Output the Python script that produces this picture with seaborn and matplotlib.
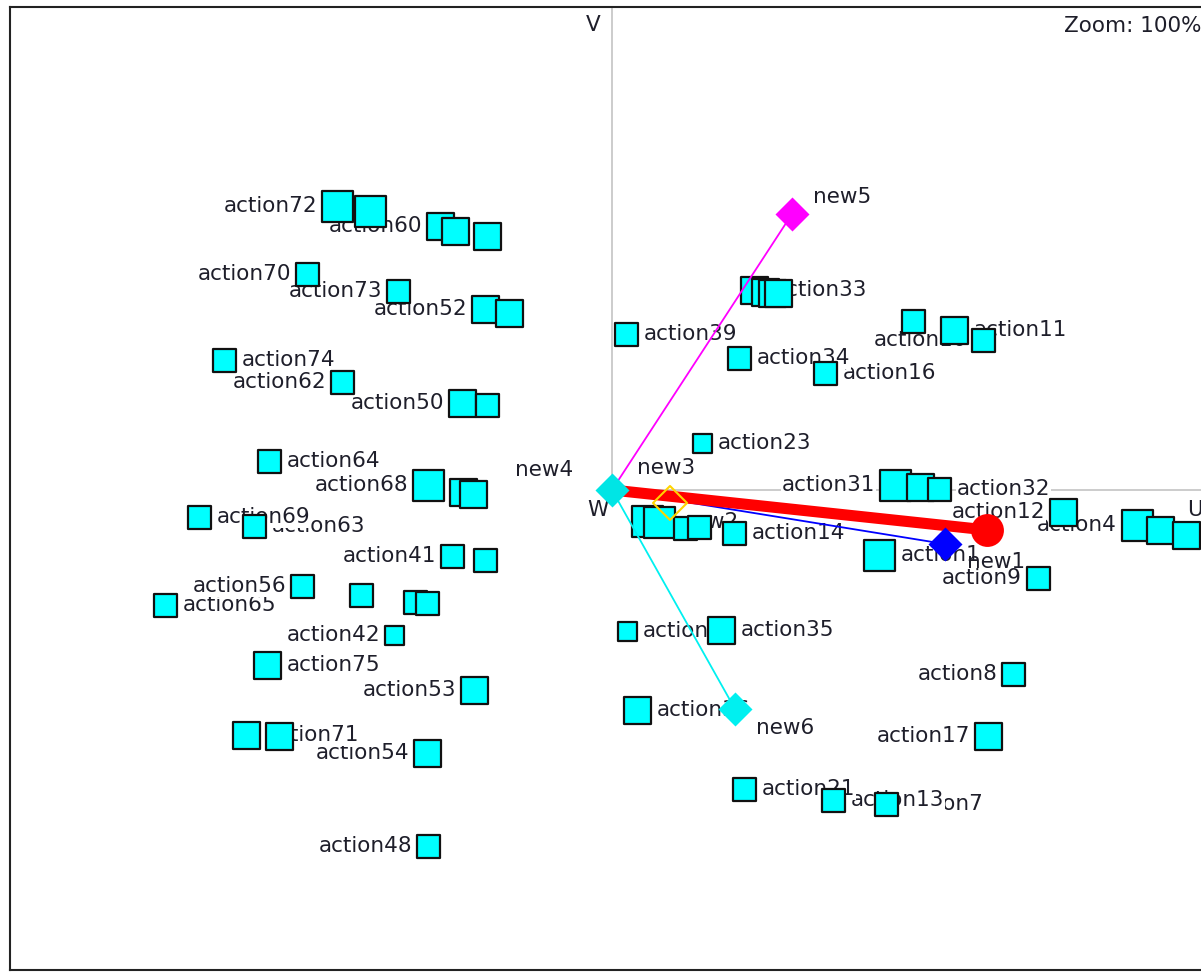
import matplotlib
matplotlib.use("Agg")
import matplotlib.pyplot as plt
import seaborn as sns
import pandas as pd

# ---- actions projected on the (U, V) plane ----
act_label = ["action72", "", "action60", "", "", "action70", "action73", "action52", "",
             "action74", "action62", "action50", "", "action64", "action68", "", "",
             "action69", "action63", "action41", "", "action56", "action65", "", "", "",
             "action42", "action75", "action53", "action71", "", "action54", "action48",
             "action39", "action33", "", "", "", "action34", "action16", "", "action11",
             "action10", "action23", "action31", "", "action32", "action12", "action4", "", "",
             "", "new2", "", "", "action14", "action1", "action9", "action37",
             "action35", "action8", "action36", "action17", "action21", "action13", "action7"]
act_u = [-2.74, -2.41, -1.71, -1.56, -1.24, -3.04, -2.13, -1.26, -1.02,
         -3.87, -2.69, -1.49, -1.24, -3.42, -1.83, -1.48, -1.38,
         -4.12, -3.57, -1.59, -1.26, -3.09, -4.46, -2.50, -1.96, -1.84,
         -2.17, -3.44, -1.37, -3.65, -3.32, -1.84, -1.83,
         0.15, 1.43, 1.54, 1.61, 1.67, 1.28, 2.14, 3.02, 3.43,
         3.72, 0.91, 2.84, 3.09, 3.28, 4.52, 5.25, 5.48, 5.74,
         0.36, 0.48, 0.74, 0.88, 1.23, 2.68, 4.26, 0.16,
         1.10, 4.02, 0.26, 3.77, 1.33, 2.22, 2.75]
act_v = [2.84, 2.79, 2.64, 2.59, 2.54, 2.16, 1.99, 1.81, 1.77,
         1.30, 1.08, 0.87, 0.85, 0.29, 0.05, -0.02, -0.04,
         -0.27, -0.36, -0.66, -0.70, -0.96, -1.15, -1.05, -1.12, -1.13,
         -1.45, -1.75, -2.00, -2.45, -2.46, -2.63, -3.56,
         1.56, 2.00, 1.98, 1.97, 1.97, 1.32, 1.17, 1.69, 1.60,
         1.50, 0.47, 0.05, 0.03, 0.01, -0.22, -0.35, -0.40, -0.45,
         -0.31, -0.32, -0.38, -0.37, -0.43, -0.65, -0.88, -1.41,
         -1.40, -1.84, -2.20, -2.46, -2.99, -3.10, -3.14]
act_size = ["big", "big", "mid", "mid", "mid", "small", "small", "mid", "mid",
            "small", "small", "mid", "small", "small", "big", "mid", "mid",
            "small", "small", "small", "small", "small", "small", "small", "small", "small",
            "tiny", "mid", "mid", "mid", "mid", "mid", "small",
            "small", "mid", "mid", "mid", "mid", "small", "small", "small", "mid",
            "small", "tiny", "big", "mid", "small", "mid", "big", "mid", "mid",
            "big", "big", "small", "small", "small", "big", "small", "tiny",
            "mid", "small", "mid", "mid", "small", "small", "small"]
act_side = ["L", "", "L", "", "", "L", "L", "L", "",
            "R", "L", "L", "", "R", "L", "", "",
            "R", "R", "L", "", "L", "R", "", "", "",
            "L", "R", "L", "R", "", "L", "L",
            "R", "R", "", "", "", "R", "R", "", "R",
            "L", "R", "L", "", "R", "L", "L", "", "",
            "", "R", "", "", "R", "R", "L", "R",
            "R", "L", "R", "L", "R", "R", "R"]

# ---- criteria / decision axis ----
crit_name = ["new4", "new3", "new5", "new1", "new6"]
crit_u = [0.0, 0.58, 1.80, 3.33, 1.23]
crit_v = [0.0, -0.13, 2.76, -0.54, -2.19]
crit_color = ["#00e5e5", "#ffd400", "#ff00ff", "#0000ff", "#00f0f0"]
stick_u, stick_v = 3.75, -0.40

size_px = {"tiny": 19, "small": 23, "mid": 27, "big": 31}

fig = plt.figure(figsize=(12.01, 9.73), dpi=100)
ax = fig.add_axes([10 / 1201, 3 / 973, 1205 / 1201, 963 / 973])
ax.set_xlim(-6.02, 6.03)
ax.set_ylim(-4.80, 4.83)
for sp in ["left", "top", "bottom"]:
    ax.spines[sp].set_color("#222222")
    ax.spines[sp].set_linewidth(1.5)
ax.spines["right"].set_visible(False)
ax.set_xticks([])
ax.set_yticks([])

# plane axes
ax.plot([0, 0], [0, 4.83], color="#c8c8c8", lw=1.3, zorder=1)
ax.plot([0, 6.1], [0, 0], color="#c8c8c8", lw=1.3, zorder=1)

txt_kw = dict(fontsize=15.5, color="#1e1e2a", family="DejaVu Sans")
ax.text(-0.19, 4.65, "V", ha="center", va="center", **txt_kw)
ax.text(5.83, -0.20, "U", ha="center", va="center", **txt_kw)
ax.text(-0.14, -0.20, "W", ha="center", va="center", **txt_kw)
ax.text(1.0, 0.973, "Zoom: 100%", transform=fig.transFigure, ha="right",
        va="center", **txt_kw)

# criteria sticks
for name, u, v, c in zip(crit_name, crit_u, crit_v, crit_color):
    if name in ("new5", "new1", "new6"):
        ax.plot([0, u], [0, v], color=c, lw=1.3, zorder=5)
ax.plot([0, stick_u], [0, stick_v], color="#ff0000", lw=8, zorder=5,
        solid_capstyle="butt")
ax.scatter([stick_u], [stick_v], s=560, color="#ff0000", zorder=6, lw=0)

df = pd.DataFrame({"u": act_u, "v": act_v, "size": act_size, "label": act_label,
                   "side": act_side})
sns.scatterplot(data=df, x="u", y="v", size="size",
                sizes={k: (p * 0.72) ** 2 for k, p in size_px.items()},
                marker="s", color="#00ffff", edgecolor="#111111", linewidth=1.6,
                legend=False, ax=ax, zorder=4)

# action labels sit on opaque white boxes, underneath the markers
box = dict(facecolor="white", edgecolor="none", pad=0.5)
for i, r in df.iterrows():
    if not r["side"]:
        continue
    off = (size_px[r["size"]] / 2 + 5) * 0.72
    dx = off if r["side"] == "R" else -off
    ha = "left" if r["side"] == "R" else "right"
    ax.annotate(r["label"], (r["u"], r["v"]), xytext=(dx, 0),
                textcoords="offset points", ha=ha, va="center",
                zorder=3 + (len(df) - i) * 1e-3, bbox=box, **txt_kw)

# criteria markers
for name, u, v, c in zip(crit_name, crit_u, crit_v, crit_color):
    if name == "new3":
        ax.scatter([u], [v], marker="D", s=300, facecolor="none", edgecolor=c,
                   lw=1.5, zorder=7)
    else:
        ax.scatter([u], [v], marker="D", s=300, color=c, lw=0, zorder=7)

crit_kw = dict(textcoords="offset points", zorder=8, **txt_kw)
ax.annotate("new4", (0, 0), xytext=(-70, 10), **crit_kw)
ax.annotate("new3", (0.58, -0.13), xytext=(-24, 21), **crit_kw)
ax.annotate("new5", (1.80, 2.76), xytext=(15, 8), **crit_kw)
ax.annotate("new1", (3.33, -0.54), xytext=(16, -17), **crit_kw)
ax.annotate("new6", (1.23, -2.19), xytext=(15, -18), **crit_kw)

fig.savefig("out.png", dpi=100)
